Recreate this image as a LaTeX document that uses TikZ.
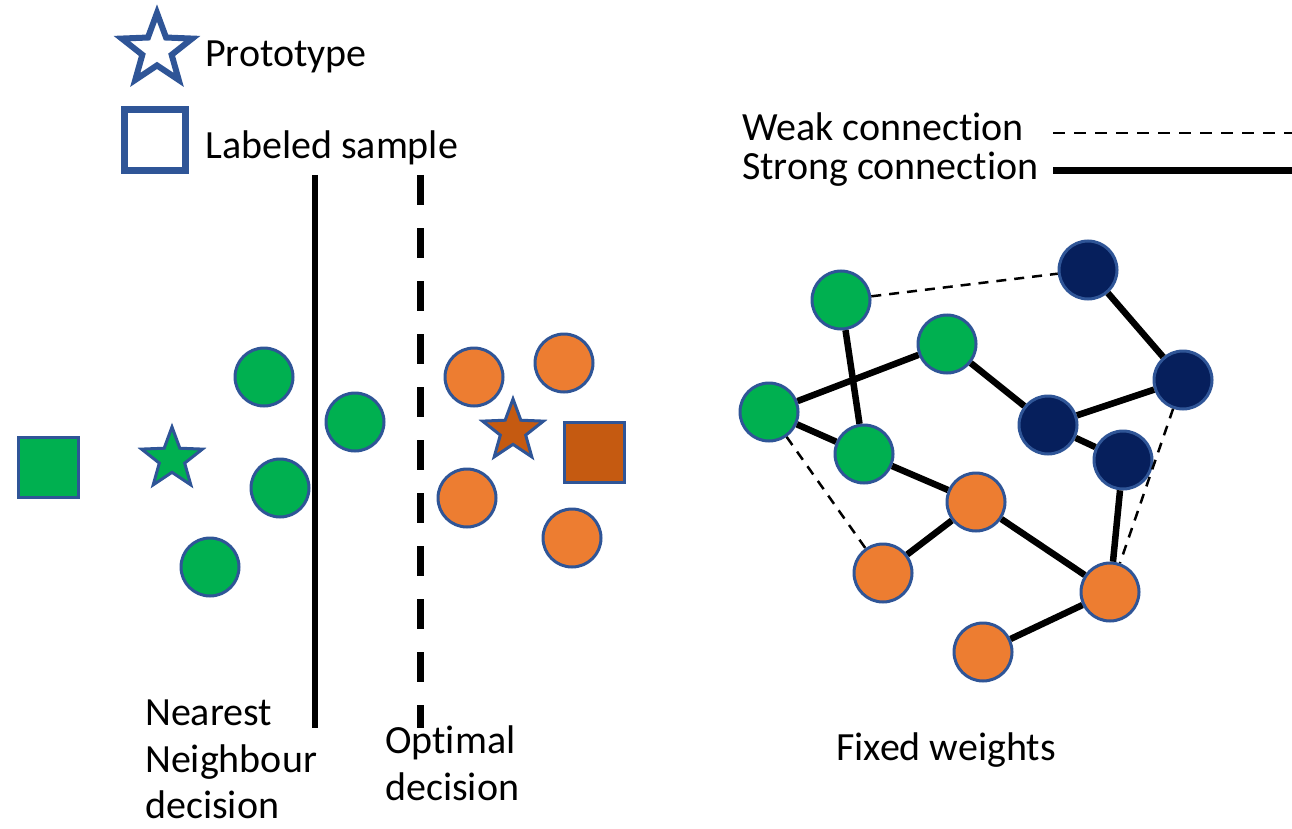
\documentclass[tikz,border=0pt]{standalone}
\usepackage{fontspec}
\setmainfont{Carlito}[Ligatures=NoCommon]
\usetikzlibrary{shapes.geometric}
\definecolor{pgreen}{HTML}{00B050}
\definecolor{porange}{HTML}{ED7D31}
\definecolor{pnavy}{HTML}{061F5C}
\definecolor{pbrown}{HTML}{C55A11}
\definecolor{pedge}{HTML}{2F5597}
\begin{document}
\begin{tikzpicture}[x=1pt,y=-1pt,
 dot/.style={circle,draw=pedge,line width=3pt,minimum size=58pt,inner sep=0pt},
 gdot/.style={dot,fill=pgreen},
 odot/.style={dot,fill=porange},
 ndot/.style={dot,fill=pnavy},
 pstar/.style={star,star points=5,star point ratio=2.4,draw=pedge,inner sep=0pt},
 psquare/.style={rectangle,draw=pedge,inner sep=0pt},
 lbl/.style={anchor=base west,inner sep=0pt,font=\fontsize{40}{48}\selectfont},
 strong/.style={line width=6.5pt},
 weak/.style={line width=2.5pt,dash pattern=on 10pt off 8pt}]
\useasboundingbox (0,0) rectangle (1292,829);
% legend
\node[pstar,fill=white,line width=6pt,minimum size=74pt] (legstar) at (157,50) {};
\node[lbl] (tproto) at (205,67) {Prototype};
\node[psquare,fill=white,line width=7pt,minimum size=61pt] (legsq) at (155,140.5) {};
\node[lbl] (tlab) at (205,159) {Labeled sample};
\node[lbl] (tweak) at (742,141) {Weak connection};
\node[lbl] (tstrong) at (742,180) {Strong connection};
\coordinate (wend) at (1292,133);
\coordinate (send) at (1292,171);
\draw[line width=2.5pt,dash pattern=on 12pt off 9pt] (1053,133) -- (wend);
\draw[line width=7pt] (1053,171) -- (send);
% decision boundaries
\coordinate (nn1) at (315,175);
\coordinate (nn2) at (315,728);
\draw[line width=6pt] (nn1) -- (nn2);
\coordinate (op1) at (420,175);
\coordinate (op2) at (420,728);
\draw[line width=7pt,dash pattern=on 30pt off 23pt] (op1) -- (op2);
% left scatter
\node[psquare,fill=pgreen,line width=3pt,minimum size=60pt] (gsq) at (48.5,467) {};
\node[pstar,fill=pgreen,line width=3pt,minimum size=64pt] (gstar) at (172,459) {};
\node[gdot] (sa) at (264,377) {};
\node[gdot] (sb) at (280,488) {};
\node[gdot] (sc) at (355,422) {};
\node[gdot] (sd) at (210,567) {};
\node[odot] (se) at (474,377) {};
\node[odot] (sf) at (564,363) {};
\node[odot] (sg) at (467,498) {};
\node[odot] (sh) at (572,538) {};
\node[pstar,fill=pbrown,line width=3pt,minimum size=64pt] (bstar) at (513,431) {};
\node[psquare,fill=pbrown,line width=3pt,minimum size=60pt] (bsq) at (594,452) {};
% labels
\node[lbl] (tn1) at (145,725) {Nearest};
\node[lbl] (tn2) at (145,772) {Neighbour};
\node[lbl] (tn3) at (145,818) {decision};
\node[lbl] (to1) at (385,753) {Optimal};
\node[lbl] (to2) at (385,800) {decision};
\node[lbl] (tfix) at (836,760) {Fixed weights};
% graph
\node[gdot] (g1) at (841,300) {};
\node[gdot] (g2) at (947,344) {};
\node[gdot] (g3) at (769,412) {};
\node[gdot] (g4) at (864,454) {};
\node[ndot] (d1) at (1088,270) {};
\node[ndot] (d2) at (1183,380) {};
\node[ndot] (d3) at (1048,425) {};
\node[ndot] (d4) at (1123,460) {};
\node[odot] (o1) at (976,502) {};
\node[odot] (o2) at (883,573) {};
\node[odot] (o3) at (1110,592) {};
\node[odot] (o4) at (983,652) {};
\draw[strong] (g1) -- (g4);
\draw[strong] (g3) -- (g2);
\draw[strong] (g3) -- (g4);
\draw[strong] (g2) -- (d3);
\draw[strong] (d3) -- (d2);
\draw[strong] (d1) -- (d2);
\draw[strong] (d3) -- (d4);
\draw[strong] (d4) -- (o3);
\draw[strong] (g4) -- (o1);
\draw[strong] (o1) -- (o2);
\draw[strong] (o1) -- (o3);
\draw[strong] (o3) -- (o4);
\draw[weak] (g1) -- (d1);
\draw[weak] (g3) -- (o2);
\draw[weak] (d2) -- (o3);
\end{tikzpicture}
\end{document}
